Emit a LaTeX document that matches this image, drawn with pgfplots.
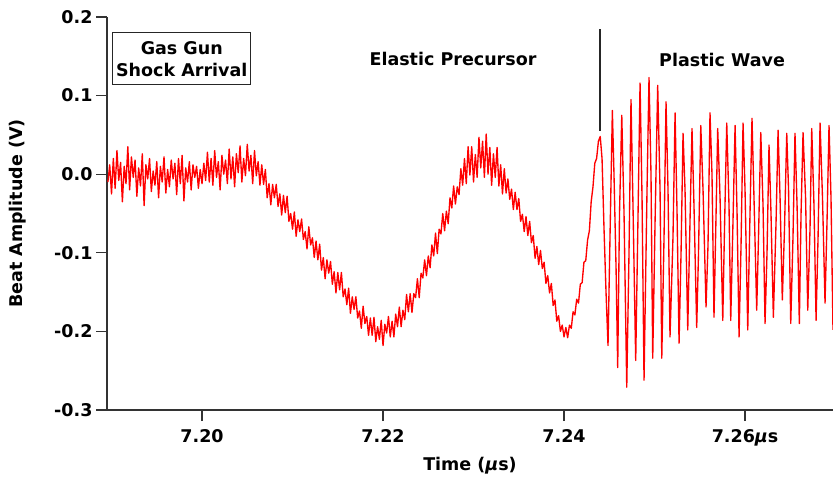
\documentclass[border=0pt]{standalone}
\usepackage{fontspec}
\setmainfont{DejaVu Sans}
\usepackage{pgfplots}
\pgfplotsset{compat=1.18}

\newcommand{\lbl}{\fontsize{17.5bp}{22bp}\selectfont\bfseries}

\begin{document}
\begin{tikzpicture}
\begin{axis}[
  scale only axis,
  width=726bp, height=393bp,
  xmin=7.1895, xmax=7.26972,
  ymin=-0.3, ymax=0.2,
  axis lines*=left,
  axis line style={line width=1.3bp, black!80},
  tick style={line width=1.3bp, black!80},
  tick align=outside,
  major tick length=11bp,
  xtick={7.20,7.22,7.24,7.26},
  xticklabels={7.20,7.22,7.24,7.26\textit{µ}s},
  ytick={-0.3,-0.2,-0.1,0,0.1,0.2},
  yticklabels={-0.3,-0.2,-0.1,0.0,0.1,0.2},
  ticklabel style={font=\lbl},
  xticklabel style={yshift=-5bp},
  xlabel={Time (\textit{µ}s)},
  ylabel={Beat Amplitude (V)},
  every axis x label/.style={at={(axis description cs:0.5,-0.1425)}, anchor=center, font=\lbl},
  every axis y label/.style={at={(axis description cs:-0.1226,0.5)}, anchor=center, rotate=90, font=\lbl},
]
% gas gun record
\addplot[red, line width=1.35bp, line join=round] table {
7.1896 -0.010
7.1898 0.012
7.1900 -0.025
7.1902 0.020
7.1904 -0.018
7.1906 0.030
7.1908 -0.008
7.1910 0.015
7.1912 -0.035
7.1914 0.010
7.1916 -0.012
7.1918 0.035
7.1920 -0.020
7.1922 0.022
7.1924 -0.004
7.1926 0.018
7.1928 -0.028
7.1930 0.008
7.1932 -0.015
7.1934 0.026
7.1936 -0.040
7.1938 0.012
7.1940 -0.006
7.1942 0.020
7.1944 -0.022
7.1946 0.004
7.1948 -0.014
7.1950 0.016
7.1952 -0.030
7.1954 0.010
7.1956 -0.010
7.1958 0.022
7.1960 -0.024
7.1962 0.006
7.1964 -0.016
7.1966 0.018
7.1968 -0.006
7.1970 0.014
7.1972 -0.026
7.1974 0.020
7.1976 -0.012
7.1978 0.024
7.1980 -0.034
7.1982 0.008
7.1984 -0.010
7.1986 0.016
7.1988 -0.020
7.1990 0.012
7.1992 -0.004
7.1994 0.010
7.1996 -0.018
7.1998 0.006
7.2000 -0.012
7.2002 0.014
7.2004 -0.008
7.2006 0.028
7.2008 -0.010
7.2010 0.020
7.2012 -0.014
7.2014 0.030
7.2016 -0.004
7.2018 0.016
7.2020 -0.020
7.2022 0.024
7.2024 0.000
7.2026 0.018
7.2028 -0.012
7.2030 0.032
7.2032 -0.006
7.2034 0.022
7.2036 -0.016
7.2038 0.026
7.2040 0.002
7.2042 0.036
7.2044 -0.010
7.2046 0.020
7.2048 -0.002
7.2050 0.038
7.2052 0.004
7.2054 0.024
7.2056 -0.012
7.2058 0.030
7.2060 -0.002
7.2062 0.016
7.2064 -0.014
7.2066 0.012
7.2068 -0.013
7.2070 0.006
7.2072 -0.030
7.2074 -0.012
7.2076 -0.039
7.2078 -0.013
7.2080 -0.030
7.2082 -0.013
7.2084 -0.041
7.2086 -0.025
7.2088 -0.052
7.2090 -0.027
7.2092 -0.049
7.2094 -0.028
7.2096 -0.060
7.2098 -0.050
7.2100 -0.070
7.2102 -0.048
7.2104 -0.079
7.2106 -0.058
7.2108 -0.073
7.2110 -0.057
7.2112 -0.083
7.2114 -0.073
7.2116 -0.095
7.2118 -0.067
7.2120 -0.090
7.2122 -0.081
7.2124 -0.106
7.2126 -0.085
7.2128 -0.109
7.2130 -0.089
7.2132 -0.122
7.2134 -0.106
7.2136 -0.133
7.2138 -0.109
7.2140 -0.126
7.2142 -0.111
7.2144 -0.140
7.2146 -0.124
7.2148 -0.151
7.2150 -0.125
7.2152 -0.147
7.2154 -0.125
7.2156 -0.156
7.2158 -0.146
7.2160 -0.166
7.2162 -0.145
7.2164 -0.177
7.2166 -0.156
7.2168 -0.172
7.2170 -0.156
7.2172 -0.183
7.2174 -0.174
7.2176 -0.196
7.2178 -0.168
7.2180 -0.190
7.2182 -0.181
7.2184 -0.205
7.2186 -0.183
7.2188 -0.205
7.2190 -0.182
7.2192 -0.213
7.2194 -0.194
7.2196 -0.210
7.2198 -0.186
7.2200 -0.218
7.2202 -0.191
7.2204 -0.202
7.2206 -0.181
7.2208 -0.207
7.2210 -0.187
7.2212 -0.207
7.2214 -0.178
7.2216 -0.194
7.2218 -0.169
7.2220 -0.194
7.2222 -0.173
7.2224 -0.185
7.2226 -0.153
7.2228 -0.175
7.2230 -0.152
7.2232 -0.176
7.2234 -0.152
7.2236 -0.157
7.2238 -0.133
7.2240 -0.157
7.2242 -0.126
7.2244 -0.132
7.2246 -0.109
7.2248 -0.129
7.2250 -0.104
7.2252 -0.119
7.2254 -0.090
7.2256 -0.104
7.2258 -0.075
7.2260 -0.101
7.2262 -0.070
7.2264 -0.076
7.2266 -0.050
7.2268 -0.072
7.2270 -0.047
7.2272 -0.063
7.2274 -0.030
7.2276 -0.043
7.2278 -0.015
7.2280 -0.038
7.2282 -0.016
7.2284 -0.026
7.2286 0.007
7.2288 -0.014
7.2290 0.020
7.2292 -0.012
7.2294 0.035
7.2296 -0.001
7.2298 0.035
7.2300 -0.010
7.2302 0.025
7.2304 -0.004
7.2306 0.047
7.2308 0.008
7.2310 0.042
7.2312 -0.004
7.2314 0.051
7.2316 0.000
7.2318 0.034
7.2320 -0.014
7.2322 0.026
7.2324 -0.004
7.2326 0.034
7.2328 -0.015
7.2330 0.012
7.2332 -0.025
7.2334 0.007
7.2336 -0.024
7.2338 -0.006
7.2340 -0.032
7.2342 -0.019
7.2344 -0.045
7.2346 -0.023
7.2348 -0.045
7.2350 -0.031
7.2352 -0.060
7.2354 -0.051
7.2356 -0.073
7.2358 -0.054
7.2360 -0.078
7.2362 -0.060
7.2364 -0.087
7.2366 -0.078
7.2368 -0.107
7.2370 -0.092
7.2372 -0.115
7.2374 -0.097
7.2376 -0.120
7.2378 -0.112
7.2380 -0.139
7.2382 -0.129
7.2384 -0.151
7.2386 -0.139
7.2388 -0.167
7.2390 -0.160
7.2392 -0.187
7.2394 -0.180
7.2396 -0.200
7.2398 -0.192
7.2400 -0.207
7.2402 -0.195
7.2404 -0.208
7.2406 -0.192
7.2408 -0.196
7.2410 -0.175
7.2412 -0.179
7.2414 -0.159
7.2416 -0.164
7.2418 -0.140
7.2420 -0.138
7.2422 -0.112
7.2424 -0.110
7.2426 -0.084
7.2428 -0.072
7.2430 -0.035
7.2432 -0.016
7.2434 0.014
7.2436 0.020
7.2438 0.042
7.2440 0.048
7.24420 0.020
7.24442 -0.070
7.24464 -0.150
7.24486 -0.218
7.24508 -0.080
7.24534 0.081
7.24552 0.000
7.24575 -0.120
7.24593 -0.246
7.24613 -0.050
7.24638 0.075
7.24663 -0.050
7.24693 -0.271
7.24718 -0.100
7.24740 0.095
7.24762 -0.040
7.24792 -0.237
7.24818 -0.050
7.24840 0.116
7.24862 -0.030
7.24884 -0.262
7.24917 -0.020
7.24939 0.123
7.24961 0.000
7.24980 -0.234
7.25006 -0.060
7.25035 0.113
7.25061 -0.020
7.25080 -0.234
7.25105 -0.080
7.25127 0.092
7.25149 -0.020
7.25171 -0.207
7.25204 -0.080
7.25227 0.078
7.25249 -0.050
7.25271 -0.215
7.25293 -0.100
7.25315 0.052
7.25337 -0.020
7.25367 -0.198
7.25392 -0.060
7.25414 0.058
7.25436 -0.040
7.25466 -0.195
7.25486 -0.100
7.25511 0.062
7.25536 -0.020
7.25569 -0.169
7.25591 -0.090
7.25613 0.078
7.25635 0.000
7.25657 -0.182
7.25680 -0.050
7.25698 0.058
7.25724 -0.030
7.25754 -0.186
7.25773 -0.070
7.25798 0.065
7.25823 -0.040
7.25842 -0.186
7.25867 -0.060
7.25890 0.062
7.25912 -0.050
7.25934 -0.207
7.25956 -0.090
7.25978 0.065
7.26000 -0.020
7.26030 -0.198
7.26055 -0.050
7.26077 0.071
7.26099 -0.030
7.26129 -0.173
7.26149 -0.080
7.26174 0.053
7.26199 -0.040
7.26221 -0.190
7.26243 -0.100
7.26265 0.037
7.26287 -0.050
7.26313 -0.182
7.26343 -0.060
7.26365 0.056
7.26387 -0.030
7.26412 -0.160
7.26436 -0.070
7.26461 0.052
7.26481 -0.020
7.26505 -0.190
7.26530 -0.080
7.26552 0.052
7.26575 -0.040
7.26600 -0.190
7.26619 -0.050
7.26641 0.053
7.26669 -0.030
7.26693 -0.173
7.26718 -0.070
7.26737 0.058
7.26762 -0.040
7.26785 -0.186
7.26807 -0.080
7.26829 0.065
7.26856 -0.030
7.26884 -0.164
7.26906 -0.060
7.26928 0.062
7.26950 -0.030
7.26972 -0.198
};

% annotations
\node[draw=black!85, line width=1bp, minimum width=138bp, minimum height=51.6bp,
      align=center, inner sep=0pt, font=\lbl] at (axis cs:7.19776,0.147) {Gas Gun\\Shock Arrival};
\node[font=\lbl] at (axis cs:7.22773,0.1463) {Elastic Precursor};
\node[font=\lbl] at (axis cs:7.25746,0.145) {Plastic Wave};
\draw[line width=1.3bp, black!85] (axis cs:7.24398,0.1845) -- (axis cs:7.24398,0.0547);
\end{axis}
\pgfresetboundingbox
\path[use as bounding box] ([shift={(-107bp,-67bp)}]current axis.south west)
  rectangle ([shift={(0bp,17bp)}]current axis.north east);
\end{tikzpicture}
\end{document}
